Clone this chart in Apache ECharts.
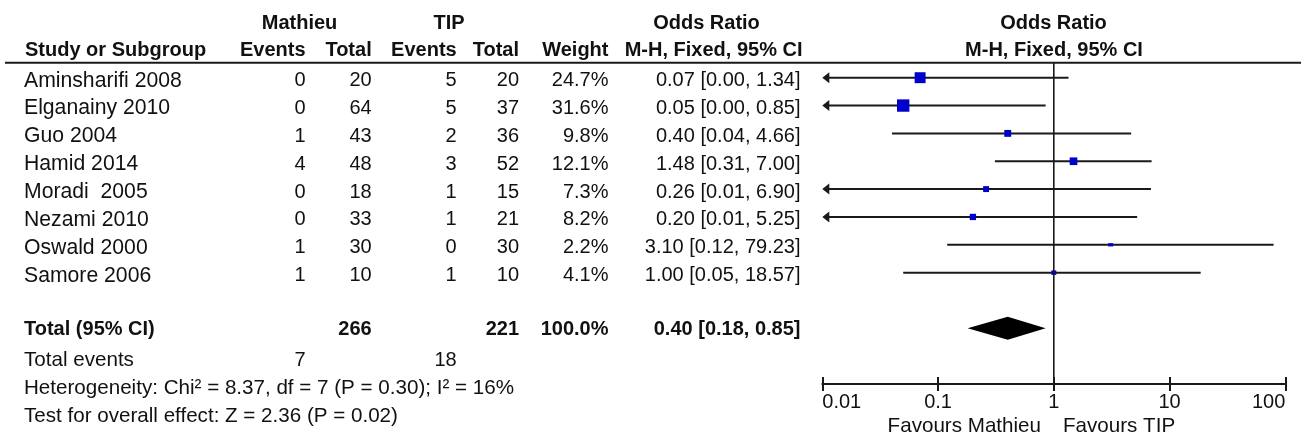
<!DOCTYPE html>
<html>
<head>
<meta charset="utf-8">
<script src="https://cdn.jsdelivr.net/npm/echarts@6/dist/echarts.min.js"></script>
<style>
  html, body { margin: 0; padding: 0; background: #ffffff; }
  #chart { width: 1301px; height: 438px; }
</style>
</head>
<body>
<div id="chart"></div>
<script>
// ---- Study data (Mathieu vs TIP, odds ratio, M-H fixed effect) ----
const studies = ['Aminsharifi 2008', 'Elganainy 2010', 'Guo 2004', 'Hamid 2014', 'Moradi  2005', 'Nezami 2010', 'Oswald 2000', 'Samore 2006'];
const mathieuEvents = [0, 0, 1, 4, 0, 0, 1, 1];
const mathieuTotal  = [20, 64, 43, 48, 18, 33, 30, 10];
const tipEvents     = [5, 5, 2, 3, 1, 1, 0, 1];
const tipTotal      = [20, 37, 36, 52, 15, 21, 30, 10];
const weights       = [24.7, 31.6, 9.8, 12.1, 7.3, 8.2, 2.2, 4.1];
const oddsRatio     = [0.07, 0.05, 0.40, 1.48, 0.26, 0.20, 3.10, 1.00];
const ciLow         = [0.00, 0.00, 0.04, 0.31, 0.01, 0.01, 0.12, 0.05];
const ciHigh        = [1.34, 0.85, 4.66, 7.00, 6.90, 5.25, 79.23, 18.57];

// Pooled result
const pooledOR = 0.40;
const pooledLow = 0.18;
const pooledHigh = 0.85;
const pooledWeight = 100.0;
const totalMathieu = 266;
const totalTip = 221;
const totalEventsMathieu = 7;
const totalEventsTip = 18;
const heterogeneityText = 'Heterogeneity: Chi\u00b2 = 8.37, df = 7 (P = 0.30); I\u00b2 = 16%';
const overallEffectText = 'Test for overall effect: Z = 2.36 (P = 0.02)';

// Axis ticks (log scale)
const axisTicks = [0.01, 0.1, 1, 10, 100];
const tickLabels = ['0.01', '0.1', '1', '10', '100'];

// ---- Layout ----
const W = 1301, H = 438;
const ROW0 = 77.7;          // pixel y of the first study row
const PITCH = 27.85;        // row spacing
const AXIS_ROW = 11;        // row where the x axis sits
const Y_MIN = -ROW0 / PITCH;
const PLOT_LEFT = 822.3, PLOT_RIGHT = 1285.3;
const TEXT_DY = 3;
const FONT_FAMILY = '"Liberation Sans", Arial, sans-serif';
const FONT = '20px ' + FONT_FAMILY;
const FONT_WIDE = '20.6px ' + FONT_FAMILY;
const FONT_NAME = '21.2px ' + FONT_FAMILY;
const FONT_BOLD = 'bold 20px ' + FONT_FAMILY;
const INK = '#111111';
const LINE = '#1a1a1a';
const BLUE = '#0000cc';

const fmt2 = v => v.toFixed(2);
const ciText = (o, l, h) => fmt2(o) + ' [' + fmt2(l) + ', ' + fmt2(h) + ']';

// Column anchors for the table part
const cols = [
  { x: 24,    align: 'left'  },  // study
  { x: 305.5, align: 'right' },  // Mathieu events
  { x: 371.7, align: 'right' },  // Mathieu total
  { x: 456.7, align: 'right' },  // TIP events
  { x: 519,   align: 'right' },  // TIP total
  { x: 608.5, align: 'right' },  // weight
  { x: 800.5, align: 'right' }   // OR [CI]
];

// Table rows built from the arrays
const tableRows = studies.map((s, i) => ({
  row: i,
  bold: false,
  nameFont: FONT_NAME,
  cells: [s, String(mathieuEvents[i]), String(mathieuTotal[i]), String(tipEvents[i]), String(tipTotal[i]),
          weights[i].toFixed(1) + '%', ciText(oddsRatio[i], ciLow[i], ciHigh[i])]
}));
tableRows.push({ row: 8.95, bold: true,
  cells: ['Total (95% CI)', '', String(totalMathieu), '', String(totalTip), pooledWeight.toFixed(1) + '%', ciText(pooledOR, pooledLow, pooledHigh)] });
tableRows.push({ row: 10.05, bold: false, nameFont: FONT_WIDE,
  cells: ['Total events', String(totalEventsMathieu), '', String(totalEventsTip), '', '', ''] });
tableRows.push({ row: 11.05, bold: false, nameFont: FONT_WIDE, cells: [heterogeneityText, '', '', '', '', '', ''] });
tableRows.push({ row: 12.05, bold: false, nameFont: FONT_WIDE, cells: [overallEffectText, '', '', '', '', '', ''] });

const studyRows = studies.map((s, i) => i);
const pooledRow = 9;
const nullValue = 1;
const refLineTopRow = -0.54;

function txt(text, x, y, align, font) {
  return {
    type: 'text', x: x, y: y, silent: true,
    style: { text: text, font: font || FONT_BOLD, fill: INK,
             align: align, textAlign: align, verticalAlign: 'middle', textVerticalAlign: 'middle' }
  };
}

const chart = echarts.init(document.getElementById('chart'), null, { renderer: 'canvas' });

const option = {
  animation: false,
  backgroundColor: '#ffffff',
  grid: [
    { left: 0, top: 0, width: W, height: H },                                    // table
    { left: PLOT_LEFT, top: 0, width: PLOT_RIGHT - PLOT_LEFT, height: ROW0 + AXIS_ROW * PITCH } // forest plot
  ],
  xAxis: [
    { gridIndex: 0, type: 'value', min: 0, max: W, show: false },
    { gridIndex: 1, type: 'log', logBase: 10, min: axisTicks[0], max: axisTicks[axisTicks.length - 1],
      position: 'bottom',
      axisLine: { show: true, onZero: false, lineStyle: { color: LINE, width: 2 } },
      axisTick: { show: true, inside: false, length: 7, lineStyle: { color: LINE, width: 2 } },
      axisLabel: {
        show: true, margin: 8, color: INK, fontFamily: FONT_FAMILY, fontSize: 20,
        showMinLabel: true, showMaxLabel: true, alignMinLabel: 'left', alignMaxLabel: 'right',
        formatter: v => tickLabels[Math.round(Math.log10(v)) - Math.round(Math.log10(axisTicks[0]))]
      },
      splitLine: { show: false }, minorTick: { show: false }
    },
    { gridIndex: 1, type: 'log', logBase: 10, min: axisTicks[0], max: axisTicks[axisTicks.length - 1],
      position: 'bottom',
      axisLine: { show: false, onZero: false },
      axisTick: { show: true, inside: true, length: 7, lineStyle: { color: LINE, width: 2 } },
      axisLabel: { show: false },
      splitLine: { show: false }
    }
  ],
  yAxis: [
    { gridIndex: 0, type: 'value', inverse: true, min: Y_MIN, max: Y_MIN + H / PITCH, show: false },
    { gridIndex: 1, type: 'value', inverse: true, min: Y_MIN, max: AXIS_ROW, show: false }
  ],
  series: [
    // Table text
    {
      type: 'custom', xAxisIndex: 0, yAxisIndex: 0, silent: true, clip: false,
      data: tableRows.map(r => [0, r.row]),
      renderItem: function (params, api) {
        const r = tableRows[params.dataIndex];
        const children = [];
        r.cells.forEach((c, k) => {
          if (!c) return;
          const p = api.coord([cols[k].x, r.row]);
          const font = r.bold ? FONT_BOLD : (k === 0 ? r.nameFont : FONT);
          children.push(txt(c, p[0], p[1] + TEXT_DY, cols[k].align, font));
        });
        return { type: 'group', children: children };
      }
    },
    // Reference line at OR = 1
    {
      type: 'line', xAxisIndex: 1, yAxisIndex: 1, silent: true, symbol: 'none',
      data: [[nullValue, refLineTopRow], [nullValue, AXIS_ROW]],
      lineStyle: { color: LINE, width: 1.6 }
    },
    // Study estimates with confidence intervals
    {
      type: 'custom', xAxisIndex: 1, yAxisIndex: 1, silent: true, clip: false,
      encode: { x: 0, y: 4 },
      data: studies.map((s, i) => [oddsRatio[i], ciLow[i], ciHigh[i], weights[i], studyRows[i]]),
      renderItem: function (params, api) {
        const or = api.value(0), lo = api.value(1), hi = api.value(2), w = api.value(3), row = api.value(4);
        const minV = axisTicks[0], maxV = axisTicks[axisTicks.length - 1];
        const cutLeft = lo <= minV;
        const pLo = api.coord([cutLeft ? minV : lo, row]);
        const pHi = api.coord([Math.min(hi, maxV), row]);
        const pC = api.coord([or, row]);
        const arrowLen = 7, arrowHalf = 5.5;
        const children = [{
          type: 'line',
          shape: { x1: cutLeft ? pLo[0] + arrowLen - 1 : pLo[0], y1: pLo[1], x2: pHi[0], y2: pHi[1] },
          style: { stroke: LINE, lineWidth: 2 }
        }];
        if (cutLeft) {
          children.push({
            type: 'polygon',
            shape: { points: [[pLo[0], pLo[1]], [pLo[0] + arrowLen, pLo[1] - arrowHalf], [pLo[0] + arrowLen, pLo[1] + arrowHalf]] },
            style: { fill: LINE }
          });
        }
        const s = 2.2 * Math.sqrt(w);
        const sw = Math.max(5, s), sh = Math.max(3, s);
        children.push({
          type: 'rect',
          shape: { x: pC[0] - sw / 2, y: pC[1] - sh / 2, width: sw, height: sh },
          style: { fill: BLUE }
        });
        return { type: 'group', children: children };
      }
    },
    // Pooled estimate diamond
    {
      type: 'custom', xAxisIndex: 1, yAxisIndex: 1, silent: true, clip: false,
      encode: { x: 0, y: 3 },
      data: [[pooledOR, pooledLow, pooledHigh, pooledRow]],
      renderItem: function (params, api) {
        const c = api.coord([api.value(0), api.value(3)]);
        const l = api.coord([api.value(1), api.value(3)]);
        const h = api.coord([api.value(2), api.value(3)]);
        const half = 11.5;
        return {
          type: 'polygon',
          shape: { points: [[l[0], c[1]], [c[0], c[1] - half], [h[0], c[1]], [c[0], c[1] + half]] },
          style: { fill: '#000000' }
        };
      }
    }
  ],
  graphic: [
    // Header rule
    { type: 'line', silent: true, shape: { x1: 5, y1: 62.7, x2: W, y2: 62.7 }, style: { stroke: LINE, lineWidth: 2 } },
    // Header line 1
    txt('Mathieu', 299.5, 23, 'center'),
    txt('TIP', 449, 23, 'center'),
    txt('Odds Ratio', 706.5, 23, 'center'),
    txt('Odds Ratio', 1053.5, 23, 'center'),
    // Header line 2
    txt('Study or Subgroup', 25, 50, 'left'),
    txt('Events', 305.5, 50, 'right'),
    txt('Total', 371.7, 50, 'right'),
    txt('Events', 456.7, 50, 'right'),
    txt('Total', 519, 50, 'right'),
    txt('Weight', 608.5, 50, 'right'),
    txt('M-H, Fixed, 95% CI', 802.5, 50, 'right'),
    txt('M-H, Fixed, 95% CI', 1054, 50, 'center'),
    // Direction labels under the axis
    txt('Favours Mathieu', 1041, 426, 'right', FONT_WIDE),
    txt('Favours TIP', 1063, 426, 'left', FONT_WIDE)
  ]
};

chart.setOption(option);
</script>
</body>
</html>
